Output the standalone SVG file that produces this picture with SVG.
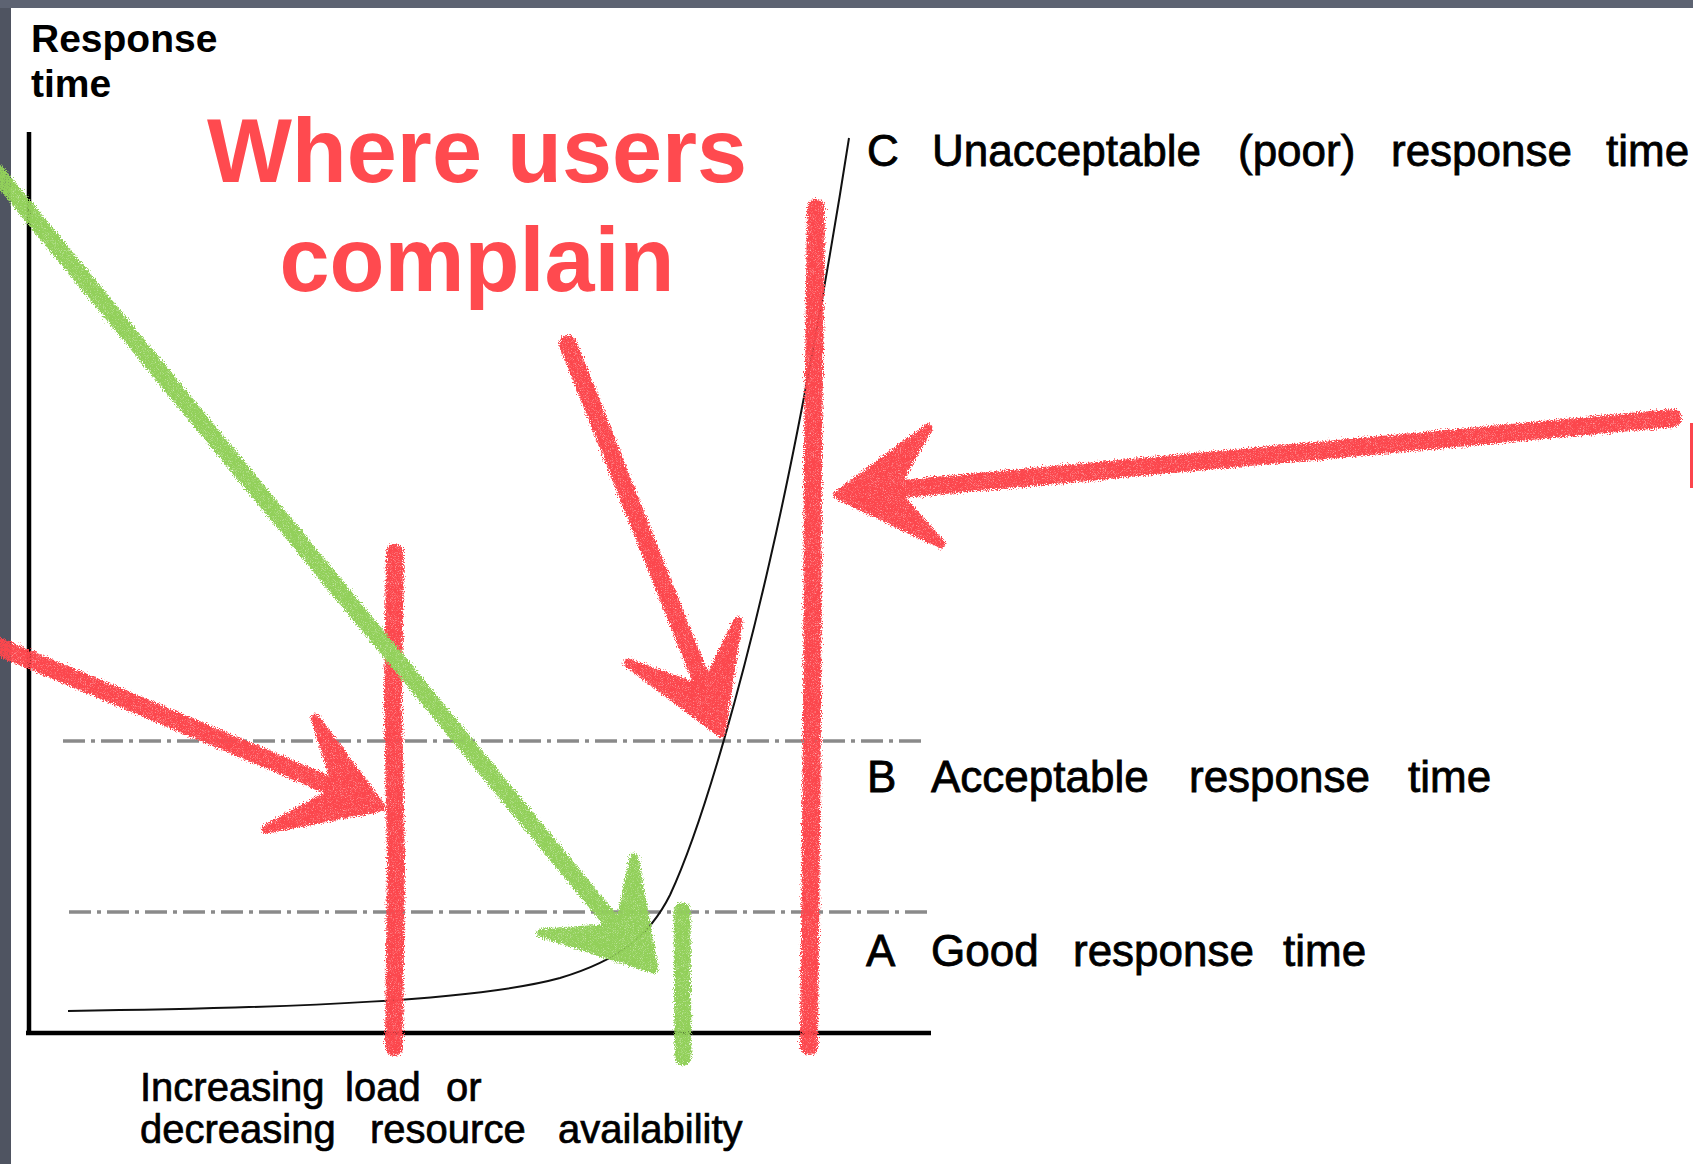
<svg xmlns="http://www.w3.org/2000/svg" width="1693" height="1164" viewBox="0 0 1693 1164">
  <style>
    .lbl { font-family: "Liberation Sans", Arial, sans-serif; font-size: 44px; fill: #000; stroke: #000; stroke-width: 0.8px; }
    .xlbl { font-family: "Liberation Sans", Arial, sans-serif; font-size: 40px; fill: #000; stroke: #000; stroke-width: 0.7px; }
    .ylbl { font-family: "Liberation Sans", Arial, sans-serif; font-size: 39px; font-weight: bold; fill: #000; }
    .title { font-family: "Liberation Sans", Arial, sans-serif; font-size: 90px; font-weight: bold; fill: #FF4A4F; text-anchor: middle; }
    .axis { stroke: #000; stroke-width: 4.5; fill: none; }
    .dd { stroke: #8a8a8a; stroke-width: 3.5; fill: none; stroke-dasharray: 22 6 4 6; }
    .curve { stroke: #111; stroke-width: 2; fill: none; }
    .rstroke { stroke: #FC464D; stroke-width: 18; fill: none; stroke-linecap: round; stroke-linejoin: round; }
    .gstroke { stroke: #92D05A; stroke-width: 17; fill: none; stroke-linecap: round; stroke-linejoin: round; }
    .rhead { fill: #FC464D; stroke: #FC464D; stroke-width: 9; stroke-linejoin: round; }
    .ghead { fill: #92D05A; stroke: #92D05A; stroke-width: 9; stroke-linejoin: round; }
  </style>
  <defs>
    <filter id="crayon" filterUnits="userSpaceOnUse" x="0" y="0" width="1693" height="1164">
      <feTurbulence type="fractalNoise" baseFrequency="0.85" numOctaves="2" seed="3" result="n"/>
      <feDisplacementMap in="SourceGraphic" in2="n" scale="8" xChannelSelector="R" yChannelSelector="G" result="d"/>
      <feTurbulence type="fractalNoise" baseFrequency="1.4" numOctaves="1" seed="9" result="n2"/>
      <feColorMatrix in="n2" type="matrix" values="0 0 0 0 0  0 0 0 0 0  0 0 0 0 0  -1.8 0 0 0 1.95" result="speck"/>
      <feComposite in="d" in2="speck" operator="in"/>
    </filter>
    <linearGradient id="curveGrad" x1="68" y1="0" x2="600" y2="0" gradientUnits="userSpaceOnUse">
      <stop offset="0" stop-color="#9a9a9a"/>
      <stop offset="0.6" stop-color="#222"/>
      <stop offset="1" stop-color="#111"/>
    </linearGradient>
  </defs>

  <!-- background and panel -->
  <rect x="0" y="0" width="1693" height="1164" fill="#4f5461"/>
  <rect x="0" y="0" width="1693" height="8" fill="#5d6372"/>
  <rect x="11" y="8" width="1682" height="1156" fill="#ffffff"/>

  <!-- axes and reference lines -->
  <g id="axes">
    <line class="axis" x1="29" y1="132" x2="29" y2="1035"/>
    <line class="axis" x1="26" y1="1033" x2="931" y2="1033"/>
    <line class="dd" x1="63" y1="741" x2="925" y2="741"/>
    <line class="dd" x1="69" y1="912" x2="931" y2="912"/>
  </g>

  <g id="curve">
    <path class="curve" stroke="url(#curveGrad)" d="M68,1011 C300,1008 480,1000 560,978 C620,960 650,935 670,895 C705,820 745,670 770,560 C800,430 830,260 849,138"/>
  </g>

  <!-- labels -->
  <g id="y-label">
    <text class="ylbl" x="31" y="52">Response</text>
    <text class="ylbl" x="31" y="97">time</text>
  </g>
  <g id="label-C">
    <text class="lbl" y="166"><tspan x="867">C</tspan><tspan x="932">Unacceptable</tspan><tspan x="1238">(poor)</tspan><tspan x="1391">response</tspan><tspan x="1606">time</tspan></text>
  </g>
  <g id="label-B">
    <text class="lbl" y="792"><tspan x="867">B</tspan><tspan x="931">Acceptable</tspan><tspan x="1189">response</tspan><tspan x="1408">time</tspan></text>
  </g>
  <g id="label-A">
    <text class="lbl" y="966"><tspan x="866">A</tspan><tspan x="931">Good</tspan><tspan x="1073">response</tspan><tspan x="1283">time</tspan></text>
  </g>
  <g id="x-label">
    <text class="xlbl" y="1101"><tspan x="140">Increasing</tspan><tspan x="345">load</tspan><tspan x="446">or</tspan></text>
    <text class="xlbl" y="1143"><tspan x="140">decreasing</tspan><tspan x="370">resource</tspan><tspan x="558">availability</tspan></text>
  </g>
  <g id="title">
    <text class="title" x="477" y="182">Where users</text>
    <text class="title" x="477" y="291">complain</text>
  </g>

  <!-- hand-drawn marks -->
  <g id="connectors" filter="url(#crayon)">
    <path class="rstroke" d="M395,553 L393,700 L396,860 L394,1047"/>
    <path class="rstroke" d="M816,208 L813,450 L812,720 L809,1046"/>
    <path class="gstroke" d="M682,911 L683,1057"/>

    <path class="gstroke" d="M-5,171 L630,944"/>
    <polygon class="ghead" points="654,969 634,858 619,928 541,933"/>

    <path class="rstroke" d="M-5,645 L345,792"/>
    <polygon class="rhead" points="381,807 315,718 338,790 266,829"/>

    <path class="rstroke" d="M568,344 L708,697"/>
    <polygon class="rhead" points="721,733 738,621 704,690 628,663"/>

    <path class="rstroke" d="M1673,418 L880,491"/>
    <polygon class="rhead" points="838,495 928,428 893,490 941,544"/>
  </g>
  <rect id="edge-fragment" x="1690" y="423" width="3" height="65" fill="#FC464D"/>
</svg>
